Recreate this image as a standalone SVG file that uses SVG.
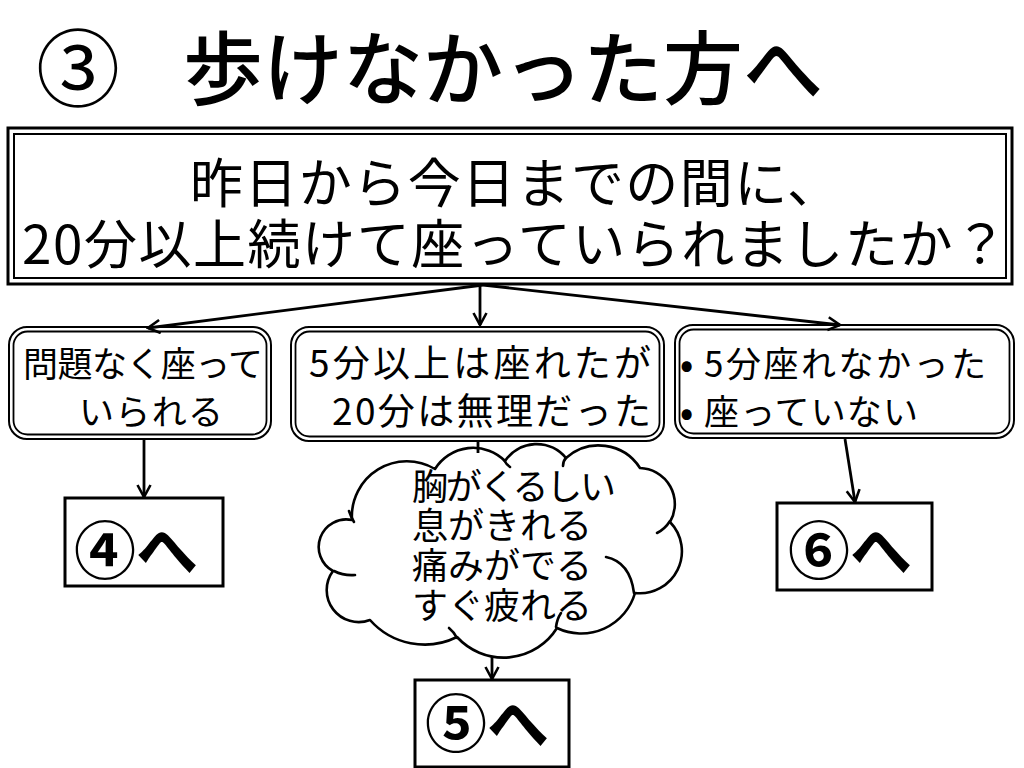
<svg xmlns="http://www.w3.org/2000/svg" width="1024" height="768" viewBox="0 0 1024 768">
<style>
text{font-family:"Noto Sans CJK JP","Noto Sans CJK SC",sans-serif;fill:#000}
.title{font-size:80px;font-weight:500}
.num{font-size:84px;font-weight:400}
.q{font-size:53px}
.opt{font-size:35px}
.mid{font-size:37px}
.bul{font-weight:700}
.cl{font-size:36px}
.go{font-size:62px;font-weight:700}
.dbo{fill:#fff;stroke:#000;stroke-width:2}
.dbi{fill:none;stroke:#000;stroke-width:1.8}
.box{fill:#fff;stroke:#000;stroke-width:3}
.ln{fill:none;stroke:#000;stroke-width:2.8}
.cloud{fill:#fff;stroke:#000;stroke-width:2.6;stroke-linejoin:round}
.inner{fill:none;stroke:#000;stroke-width:2.6;stroke-linecap:round}
</style>
<defs>
<marker id="arr" viewBox="0 0 16 16" refX="14" refY="8" markerWidth="16" markerHeight="16" markerUnits="userSpaceOnUse" orient="auto">
<path d="M2,1.5 L14,8 L2,14.5" fill="none" stroke="#000" stroke-width="2.6"/>
</marker>
</defs>
<rect width="1024" height="768" fill="#fff"/>

<g id="title">
<text class="num" x="36" y="100">③</text>
<text class="title" x="183" y="98" textLength="640" lengthAdjust="spacing">歩けなかった方へ</text>
</g>

<g id="question">
<rect x="8" y="128" width="1004" height="156" fill="#fff" stroke="#000" stroke-width="3"/>
<rect x="14" y="134" width="992" height="144" fill="none" stroke="#000" stroke-width="2"/>
<text class="q" x="190" y="203" textLength="650" lengthAdjust="spacing">昨日から今日までの間に、</text>
<text class="q" x="22" y="264" textLength="985" lengthAdjust="spacing">20分以上続けて座っていられましたか？</text>
</g>

<g id="opt-ok">
<rect class="dbo" x="9" y="327" width="262" height="112" rx="18"/>
<rect class="dbi" x="13.5" y="331.5" width="253" height="103" rx="14"/>
<text class="opt" x="23" y="377" textLength="240" lengthAdjust="spacing">問題なく座って</text>
<text class="opt" x="79" y="425" textLength="144" lengthAdjust="spacing">いられる</text>
</g>

<g id="opt-mid">
<rect class="dbo" x="291" y="327" width="373" height="114" rx="18"/>
<rect class="dbi" x="295.5" y="331.5" width="364" height="105" rx="14"/>
<text class="mid" x="309" y="377" textLength="342" lengthAdjust="spacing">5分以上は座れたが</text>
<text class="mid" x="332" y="425" textLength="319" lengthAdjust="spacing">20分は無理だった</text>
</g>

<g id="opt-no">
<rect class="dbo" x="675" y="325" width="339" height="113" rx="18"/>
<rect class="dbi" x="679.5" y="329.5" width="330" height="104" rx="14"/>
<text class="opt" y="377"><tspan class="bul" x="680">•</tspan><tspan x="704" textLength="282" lengthAdjust="spacing">5分座れなかった</tspan></text>
<text class="opt" y="425"><tspan class="bul" x="680">•</tspan><tspan x="704" textLength="214" lengthAdjust="spacing">座っていない</tspan></text>
</g>

<g id="symptoms">
<path class="cloud" d="M333,571 A27.5,27.5 0 0 1 352,520 A55,55 0 0 1 435,469 A45,45 0 0 1 505,461 A38,38 0 0 1 566,458 A49,49 0 0 1 640,468 A36,36 0 0 1 670,522 A42,42 0 0 1 635,593 A56,56 0 0 1 557,628 A63,63 0 0 1 457,637 A73,73 0 0 1 370,620 A32,32 0 0 1 333,571 Z"/>
<path class="inner" d="M334,571 Q344,576 355,575"/>
<path class="inner" d="M349,511 Q351,517 354,522"/>
<path class="inner" d="M449,628 Q454,632 457,638"/>
<path class="inner" d="M556,627 Q557,619 561,613"/>
<path class="inner" d="M606,557 Q630,562 634,593"/>
<path class="inner" d="M657,533 Q665,529 670,521"/>
<path class="inner" d="M504,460 Q506,464 510,467"/>
<path class="inner" d="M566,458 Q563,461 563,466"/>
<text class="cl"><tspan x="412" y="500" textLength="204" lengthAdjust="spacing">胸がくるしい</tspan><tspan x="412" y="539" textLength="180" lengthAdjust="spacing">息がきれる</tspan><tspan x="412" y="579" textLength="180" lengthAdjust="spacing">痛みがでる</tspan><tspan x="412" y="619" textLength="180" lengthAdjust="spacing">すぐ疲れる</tspan></text>
</g>

<g id="goto4">
<rect class="box" x="65" y="498" width="158" height="88"/>
<text class="go" x="74" y="574">④へ</text>
</g>

<g id="goto5">
<rect class="box" x="415" y="680" width="154" height="87"/>
<text class="go" x="425" y="747">⑤へ</text>
</g>

<g id="goto6">
<rect class="box" x="777" y="503" width="155" height="87"/>
<text class="go" x="788" y="574">⑥へ</text>
</g>

<g id="connectors">
<line class="ln" x1="483" y1="285" x2="148" y2="328" marker-end="url(#arr)"/>
<line class="ln" x1="480" y1="285" x2="480" y2="325" marker-end="url(#arr)"/>
<line class="ln" x1="483" y1="285" x2="840" y2="325" marker-end="url(#arr)"/>
<line class="ln" x1="144" y1="440" x2="144" y2="497" marker-end="url(#arr)"/>
<line class="ln" x1="478" y1="442" x2="478" y2="453"/>
<line class="ln" x1="492" y1="657" x2="492" y2="679" marker-end="url(#arr)"/>
<line class="ln" x1="845" y1="439" x2="855" y2="502" marker-end="url(#arr)"/>
</g>
</svg>
